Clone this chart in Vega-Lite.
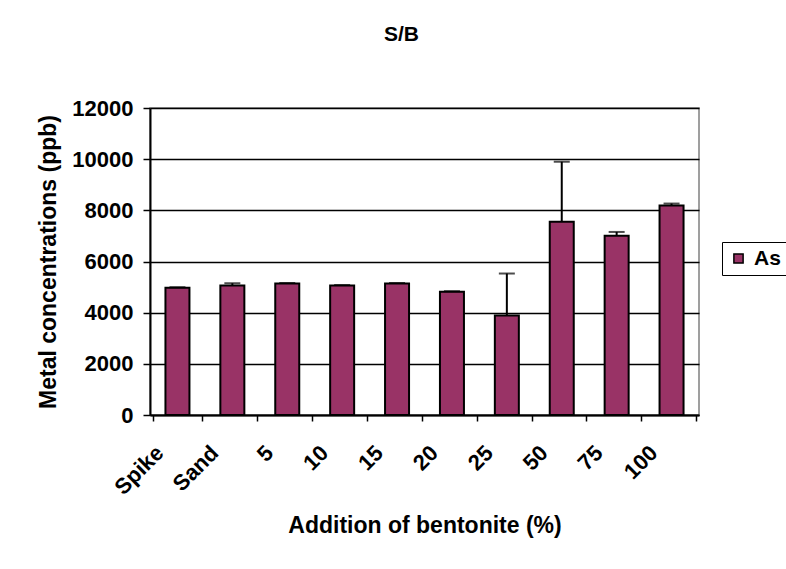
{
  "$schema": "https://vega.github.io/schema/vega-lite/v6.json",
  "width": 549,
  "height": 307,
  "autosize": {"type": "none"},
  "padding": {"left": 150, "top": 108, "right": 87, "bottom": 154},
  "background": "white",
  "title": {"text": "S/B", "fontSize": 21, "font": "Liberation Sans", "fontWeight": "bold", "color": "black", "offset": 52, "dx": -23},
  "data": {
    "values": [
      {"cat": "Spike", "value": 4970, "upper": 4995, "series": "As"},
      {"cat": "Sand", "value": 5060, "upper": 5150, "series": "As"},
      {"cat": "5", "value": 5140, "upper": 5160, "series": "As"},
      {"cat": "10", "value": 5060, "upper": 5080, "series": "As"},
      {"cat": "15", "value": 5140, "upper": 5160, "series": "As"},
      {"cat": "20", "value": 4820, "upper": 4840, "series": "As"},
      {"cat": "25", "value": 3890, "upper": 5530, "series": "As"},
      {"cat": "50", "value": 7550, "upper": 9900, "series": "As"},
      {"cat": "75", "value": 7010, "upper": 7155, "series": "As"},
      {"cat": "100", "value": 8190, "upper": 8265, "series": "As"}
    ]
  },
  "encoding": {
    "x": {
      "field": "cat",
      "type": "nominal",
      "sort": null,
      "axis": {
        "title": "Addition of bentonite (%)",
        "labelAngle": -45,
        "labelAlign": "right",
        "labelBaseline": "middle",
        "labelOffset": -18,
        "labelPadding": 28,
        "tickBand": "extent",
        "tickSize": 6,
        "tickWidth": 1.5,
        "tickColor": "black",
        "domainColor": "black",
        "domainWidth": 2,
        "grid": false,
        "titlePadding": 16
      }
    }
  },
  "layer": [
    {
      "mark": {"type": "bar", "width": 24, "stroke": "black", "strokeWidth": 2},
      "encoding": {
        "y": {"field": "value", "type": "quantitative", "title": "Metal concentrations (ppb)", "scale": {"domain": [0, 12000]}},
        "color": {
          "field": "series",
          "type": "nominal",
          "scale": {"range": ["#993366"]},
          "legend": {
            "orient": "none",
            "legendX": 572,
            "legendY": 134,
            "title": null,
            "strokeColor": "black",
            "fillColor": "white",
            "padding": 6,
            "symbolType": "square",
            "symbolSize": 85,
            "symbolOffset": 0,
            "symbolStrokeColor": "black",
            "symbolStrokeWidth": 1.5,
            "labelFontSize": 21,
            "labelFont": "Liberation Sans",
            "labelFontWeight": "bold",
            "labelColor": "black",
            "labelOffset": 5
          }
        }
      }
    },
    {
      "mark": {"type": "rule", "stroke": "black", "strokeWidth": 2},
      "encoding": {
        "y": {"field": "value", "type": "quantitative", "title": "Metal concentrations (ppb)"},
        "y2": {"field": "upper"}
      }
    },
    {
      "mark": {"type": "tick", "color": "black", "thickness": 2, "size": 16},
      "encoding": {
        "y": {"field": "upper", "type": "quantitative", "title": "Metal concentrations (ppb)"}
      }
    }
  ],
  "config": {
    "font": "Liberation Sans",
    "view": {"stroke": "#808080", "strokeWidth": 1.5},
    "axis": {
      "labelFont": "Liberation Sans",
      "labelFontWeight": "bold",
      "labelFontSize": 22,
      "labelColor": "black",
      "titleFont": "Liberation Sans",
      "titleFontWeight": "bold",
      "titleFontSize": 23,
      "titleColor": "black"
    },
    "axisY": {
      "values": [0, 2000, 4000, 6000, 8000, 10000, 12000],
      "format": "d",
      "grid": true,
      "gridColor": "black",
      "gridWidth": 1.5,
      "gridOpacity": 1,
      "domainColor": "black",
      "domainWidth": 2,
      "tickColor": "black",
      "tickSize": 7,
      "tickWidth": 1.5,
      "labelPadding": 10,
      "titlePadding": 11
    }
  }
}
